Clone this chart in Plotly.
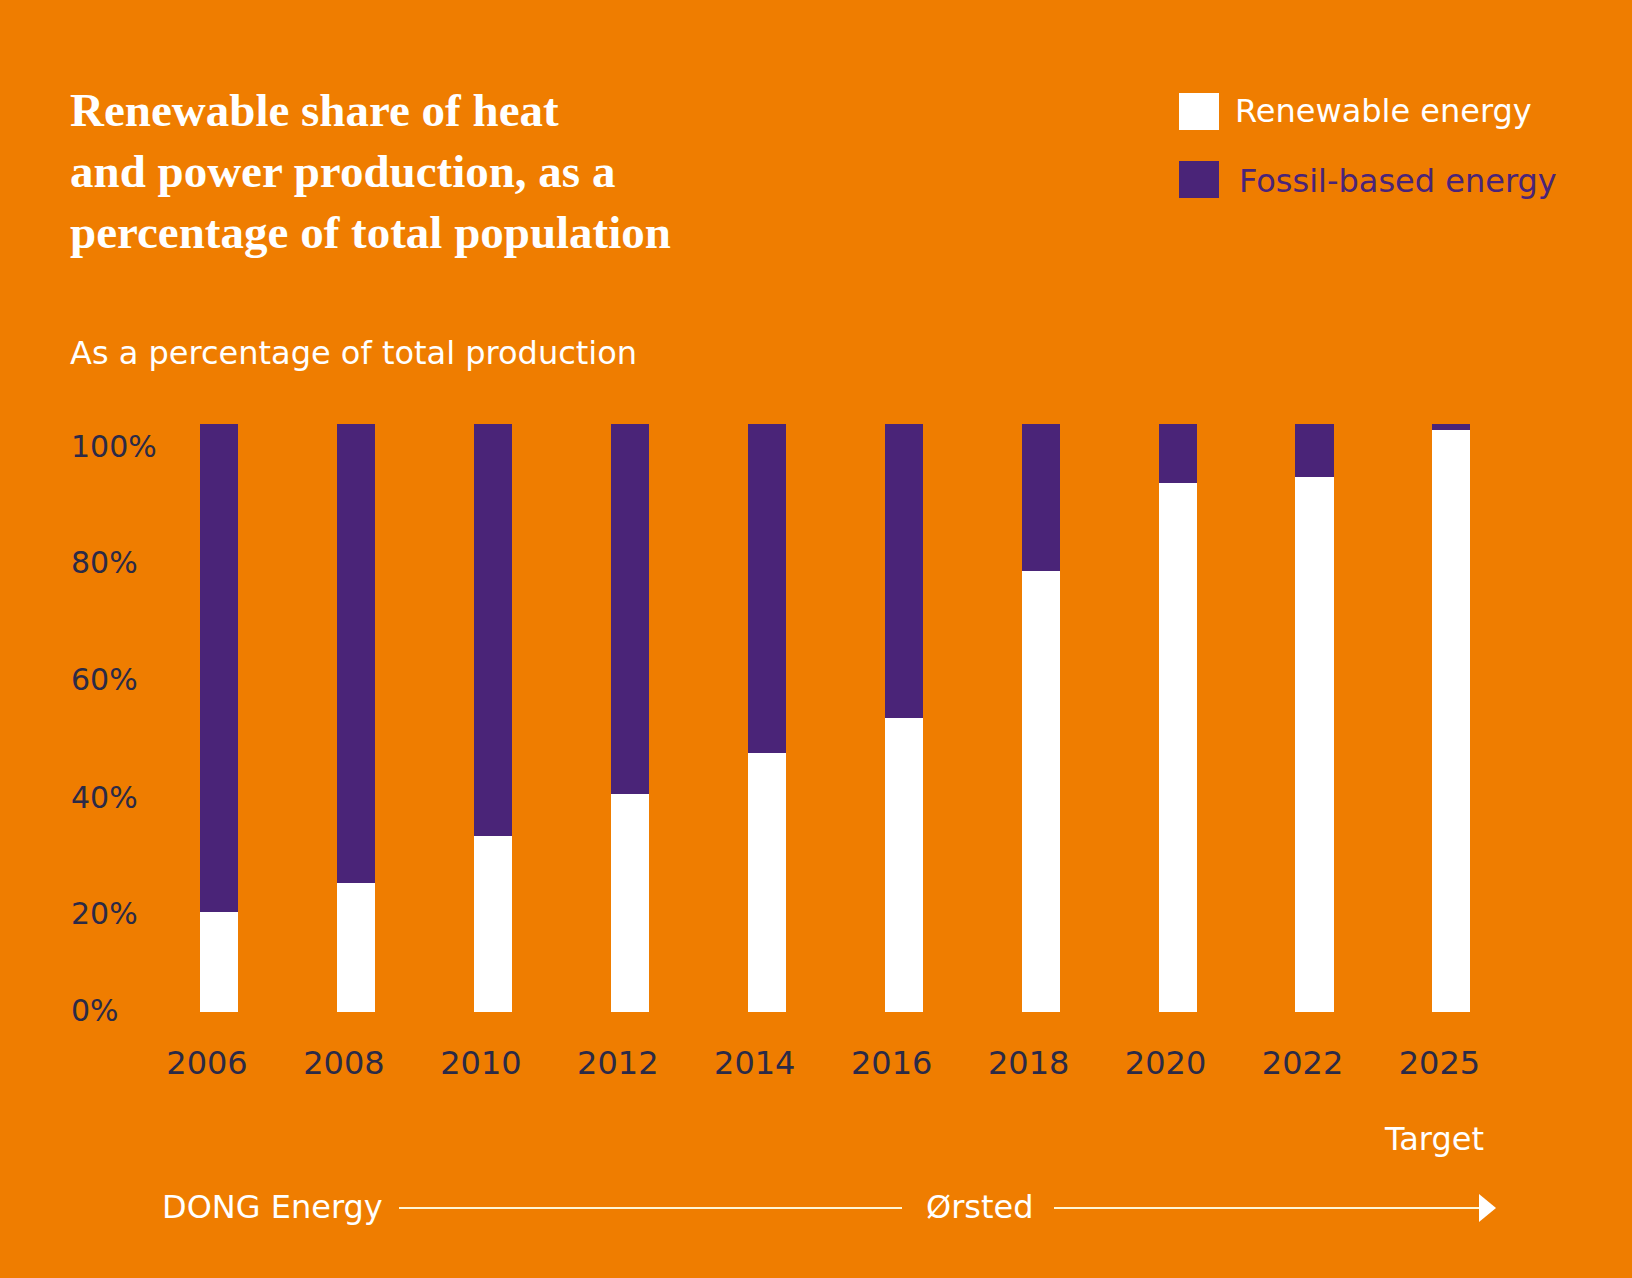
"""Renewable vs fossil share of heat and power production (stacked bars)."""

import plotly.graph_objects as go

# ---- data -------------------------------------------------------------
years = ["2006", "2008", "2010", "2012", "2014", "2016", "2018", "2020", "2022", "2025"]
renewable = [17, 22, 30, 37, 44, 50, 75, 90, 91, 99]
fossil = [100 - r for r in renewable]
y_tick_labels = ["0%", "20%", "40%", "60%", "80%", "100%"]

# ---- style ------------------------------------------------------------
W, H = 1632, 1278
BG = "#EF7D00"
PURPLE = "#4A2478"
DARK = "#2B2A47"
WHITE = "#FFFFFF"
SANS = "DejaVu Sans, Verdana, sans-serif"
SERIF = "Liberation Serif, DejaVu Serif, serif"

M_L, M_R, M_T, M_B = 68, 112, 424, 266
PLOT_W = W - M_L - M_R
PLOT_H = H - M_T - M_B
FIRST_BAR_X = 219      # pixel centre of the first bar
BAR_STEP = 136.94      # pixels between bar centres


def px(x):
    """Pixel x -> paper x."""
    return (x - M_L) / PLOT_W


def py(y):
    """Pixel y (from top) -> paper y."""
    return (H - M_B - y) / PLOT_H


fig = go.Figure()
fig.add_trace(go.Bar(x=years, y=renewable, name="Renewable energy",
                     marker=dict(color=WHITE, line_width=0), width=0.278))
fig.add_trace(go.Bar(x=years, y=fossil, name="Fossil-based energy",
                     marker=dict(color=PURPLE, line_width=0), width=0.278))

fig.update_layout(
    width=W,
    height=H,
    barmode="stack",
    showlegend=False,
    paper_bgcolor=BG,
    plot_bgcolor=BG,
    margin=dict(l=M_L, r=M_R, t=M_T, b=M_B),
    hovermode=False,
    font=dict(family=SANS, color=DARK),
)

fig.update_xaxes(
    type="category",
    range=[(M_L - FIRST_BAR_X) / BAR_STEP, (W - M_R - FIRST_BAR_X) / BAR_STEP],
    showgrid=False,
    showline=False,
    zeroline=False,
    ticks="",
    ticklabelstandoff=29,
    ticklabelshift=-12,
    tickfont=dict(family=SANS, size=32, color=DARK),
)

# tick labels sit where the original artwork put them
fig.update_yaxes(
    range=[0, 100],
    showgrid=False,
    showline=False,
    zeroline=False,
    ticks="",
    tickvals=[0.3, 16.8, 36.4, 56.5, 76.4, 96.1],
    ticktext=y_tick_labels,
    ticklabelposition="inside",
    ticklabeloverflow="allow",
    tickfont=dict(family=SANS, size=30, color=DARK),
)

# ---- titles -----------------------------------------------------------
fig.add_annotation(
    text="<b>Renewable share of heat<br>and power production, as a<br>percentage of total population</b>",
    x=px(68), y=py(171), xref="paper", yref="paper",
    xanchor="left", yanchor="middle", align="left", showarrow=False,
    font=dict(family=SERIF, size=47, color=WHITE),
)
fig.add_annotation(
    text="As a percentage of total production",
    x=px(68), y=py(353), xref="paper", yref="paper",
    xanchor="left", yanchor="middle", showarrow=False,
    font=dict(family=SANS, size=32, color=WHITE),
)

# ---- legend (drawn by hand, big squares) ------------------------------
for (y0, y1), colour, label, tx, ty in [
    ((93, 130), WHITE, "Renewable energy", 1233, 111),
    ((161, 198), PURPLE, "Fossil-based energy", 1237, 181),
]:
    fig.add_shape(type="rect", xref="paper", yref="paper",
                  x0=px(1179), x1=px(1219), y0=py(y1), y1=py(y0),
                  fillcolor=colour, line_width=0)
    fig.add_annotation(text=label, x=px(tx), y=py(ty), xref="paper", yref="paper",
                       xanchor="left", yanchor="middle", showarrow=False,
                       font=dict(family=SANS, size=32, color=colour))

# ---- timeline at the bottom -------------------------------------------
fig.add_annotation(text="Target", x=px(1434), y=py(1139), xref="paper", yref="paper",
                   xanchor="center", yanchor="middle", showarrow=False,
                   font=dict(family=SANS, size=32, color=WHITE))
fig.add_annotation(text="DONG Energy", x=px(160), y=py(1207), xref="paper", yref="paper",
                   xanchor="left", yanchor="middle", showarrow=False,
                   font=dict(family=SANS, size=32, color=WHITE))
fig.add_annotation(text="Ørsted", x=px(924), y=py(1207), xref="paper", yref="paper",
                   xanchor="left", yanchor="middle", showarrow=False,
                   font=dict(family=SANS, size=32, color=WHITE))

LINE = "#FFF6D5"
for x0, x1 in [(399, 902), (1054, 1480)]:
    fig.add_shape(type="line", xref="paper", yref="paper",
                  x0=px(x0), x1=px(x1), y0=py(1208), y1=py(1208),
                  line=dict(color=LINE, width=2))
fig.add_shape(
    type="path", xref="paper", yref="paper",
    path=f"M {px(1479)},{py(1194)} L {px(1496)},{py(1208)} L {px(1479)},{py(1222)} Z",
    fillcolor=WHITE, line_width=0,
)

# drop the browser's default page margin so the figure fills the window
fig.write_html(
    "out.html",
    config={"displayModeBar": False},
    post_script="document.body.style.margin = '0';",
)
